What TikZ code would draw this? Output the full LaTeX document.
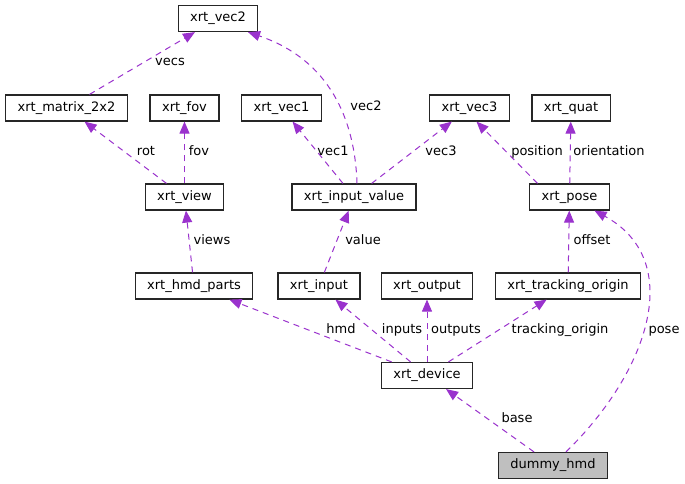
\documentclass[tikz,border=0pt]{standalone}
\usepackage{fontspec}
\setmainfont{DejaVu Sans}
\usepackage{tikz}
\usetikzlibrary{arrows.meta}

\definecolor{edgecol}{HTML}{9A32CD}

\begin{document}
\begin{tikzpicture}[x=1pt, y=-1pt,
    every node/.style={font=\fontsize{13}{15}\selectfont},
    cls/.style={draw=black!85, fill=white, line width=1.2pt, inner xsep=12pt,
        inner ysep=0pt, minimum height=26pt, text height=9.5pt, text depth=3pt},
    lbl/.style={inner sep=0pt, text height=9.5pt, text depth=3pt},
    uses/.style={draw=edgecol, line width=1pt, dash pattern=on 6pt off 5pt,
        -{Triangle[length=12pt, width=10pt]}}]
    \path[use as bounding box, fill=white] (0,0) rectangle (685,484);

    % classes
    \node[cls] (vec2) at (218,18.5) {xrt\_vec2};
    \node[cls] (mat) at (66.5,108) {xrt\_matrix\_2x2};
    \node[cls] (fov) at (184.5,108) {xrt\_fov};
    \node[cls] (vec1) at (281.5,108) {xrt\_vec1};
    \node[cls] (vec3) at (469.5,108) {xrt\_vec3};
    \node[cls] (quat) at (571,108) {xrt\_quat};
    \node[cls] (view) at (184.5,197) {xrt\_view};
    \node[cls] (ival) at (354,197) {xrt\_input\_value};
    \node[cls] (pose) at (569.5,197) {xrt\_pose};
    \node[cls] (hmd) at (194,286) {xrt\_hmd\_parts};
    \node[cls] (input) at (319,286) {xrt\_input};
    \node[cls] (output) at (427,286) {xrt\_output};
    \node[cls] (origin) at (568,286) {xrt\_tracking\_origin};
    \node[cls] (dev) at (427,375.5) {xrt\_device};
    \node[cls, fill=gray!50] (dummy) at (553,465.5) {dummy\_hmd};

    % members
    \draw[uses] (mat) -- (vec2);
    \draw[uses] (view) -- (mat);
    \draw[uses] (view) -- (fov);
    \draw[uses] (ival) -- (vec1);
    \draw[uses] ([xshift=3pt]ival.north) .. controls (355,120) and (330,60)
        .. ([xshift=30pt]vec2.south);
    \draw[uses] (ival) -- (vec3);
    \draw[uses] ([xshift=-32pt]pose.north) -- ([xshift=7pt]vec3.south);
    \draw[uses] (pose) -- (quat);
    \draw[uses] (input) -- (ival);
    \draw[uses] (hmd) -- (view);
    \draw[uses] (origin) -- (pose);
    \draw[uses] (dev) -- (hmd);
    \draw[uses] (dev) -- (input);
    \draw[uses] (dev) -- (output);
    \draw[uses] (dev) -- (origin);
    \draw[uses] (dummy) -- (dev);
    \draw[uses] ([xshift=13pt]dummy.north) .. controls (650,370) and (685,260)
        .. ([xshift=25pt]pose.south);

    \node[lbl] at (170,62) {vecs};
    \node[lbl] at (146,152) {rot};
    \node[lbl] at (199,152) {fov};
    \node[lbl] at (333,152) {vec1};
    \node[lbl] at (366,107) {vec2};
    \node[lbl] at (441,152) {vec3};
    \node[lbl] at (537,152) {position};
    \node[lbl] at (609,152) {orientation};
    \node[lbl] at (212,241) {views};
    \node[lbl] at (363,241) {value};
    \node[lbl] at (592,241) {offset};
    \node[lbl] at (341,330) {hmd};
    \node[lbl] at (402,330) {inputs};
    \node[lbl] at (456,330) {outputs};
    \node[lbl] at (560,330) {tracking\_origin};
    \node[lbl] at (664,330) {pose};
    \node[lbl] at (517,419) {base};
\end{tikzpicture}
\end{document}
